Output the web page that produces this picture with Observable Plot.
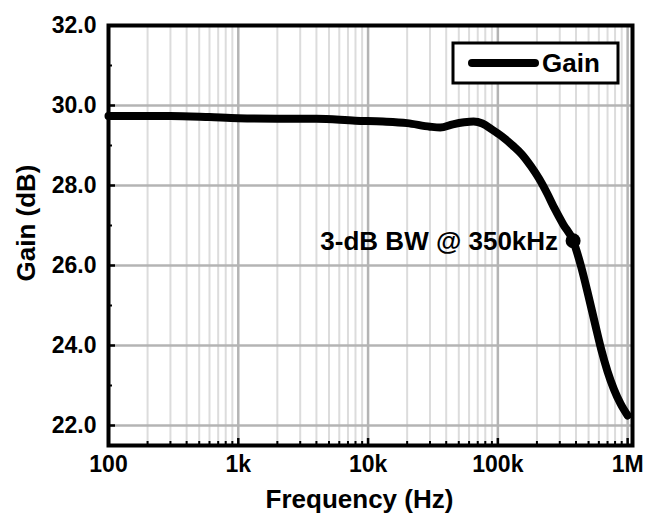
<!DOCTYPE html>
<html><head><meta charset="utf-8">
<script src="https://cdn.jsdelivr.net/npm/d3@7"></script>
<script src="https://cdn.jsdelivr.net/npm/@observablehq/plot@0.6"></script>
<style>body{margin:0;background:#fff;} #chart svg{display:block;}</style>
</head><body><div id="chart"></div>
<script>
// ---- data ----
const freq = [100, 300, 600, 1000, 2000, 4000, 8000, 13000, 20000, 30000, 36000, 45000, 55000, 65000, 76000, 90000, 108000, 130000, 153000, 180000, 207000, 240000, 274000, 320000, 380000, 440000, 498000, 560000, 626000, 700000, 785000, 880000, 1000000];
const gain = [29.74, 29.74, 29.71, 29.68, 29.67, 29.67, 29.62, 29.60, 29.56, 29.47, 29.45, 29.53, 29.58, 29.60, 29.55, 29.40, 29.22, 29.00, 28.78, 28.48, 28.18, 27.80, 27.42, 27.02, 26.62, 25.95, 25.25, 24.55, 23.90, 23.35, 22.90, 22.55, 22.25];
const markerFreq = [380000];
const markerGain = [26.62];
const markerLabel = ["3-dB BW @ 350kHz"];
const seriesName = "Gain";
const xMajorTicks = [100, 1000, 10000, 100000, 1000000];
const xTickLabels = ["100", "1k", "10k", "100k", "1M"];
const xMinorTicks = [200,300,400,500,600,700,800,900, 2000,3000,4000,5000,6000,7000,8000,9000, 20000,30000,40000,50000,60000,70000,80000,90000, 200000,300000,400000,500000,600000,700000,800000,900000];
const yMajorTicks = [22, 24, 26, 28, 30, 32];
const yTickLabels = ["22.0", "24.0", "26.0", "28.0", "30.0", "32.0"];
const yMinorTicks = [23, 25, 27, 29, 31];
const xTitle = "Frequency (Hz)";
const yTitle = "Gain (dB)";

// ---- build ----
const W = 645, H = 518;
const mL = 108, mR = 13, mT = 25, mB = 73;
const plotW = W - mL - mR, plotH = H - mT - mB;
const font = "'Liberation Sans', Arial, sans-serif";

const data = freq.map((f, i) => ({f, g: gain[i]}));
const markers = markerFreq.map((f, i) => ({f, g: markerGain[i], label: markerLabel[i]}));
const xLab = new Map(xMajorTicks.map((t, i) => [t, xTickLabels[i]]));
const yLab = new Map(yMajorTicks.map((t, i) => [t, yTickLabels[i]]));

const chart = Plot.plot({
  width: W, height: H,
  marginLeft: mL, marginRight: mR, marginTop: mT, marginBottom: mB,
  style: {fontFamily: font, background: "#fff", overflow: "visible"},
  x: {type: "log", domain: [100, 1.09e6], axis: null},
  y: {domain: [21.5, 32], axis: null},
  marks: [
    // grid
    Plot.ruleX(xMinorTicks, {stroke: "#dcdcdc", strokeWidth: 2}),
    Plot.ruleX(xMajorTicks, {stroke: "#b4b4b4", strokeWidth: 2.5}),
    Plot.ruleY(yMajorTicks, {stroke: "#b4b4b4", strokeWidth: 2.5}),
    // inward ticks
    Plot.ruleX(xMinorTicks, {stroke: "#000", strokeWidth: 2, insetTop: plotH - 4}),
    Plot.ruleX(xMajorTicks, {stroke: "#000", strokeWidth: 2.5, insetTop: plotH - 7}),
    Plot.ruleY(yMinorTicks, {stroke: "#000", strokeWidth: 2, insetRight: plotW - 4}),
    Plot.ruleY(yMajorTicks, {stroke: "#000", strokeWidth: 2.5, insetRight: plotW - 7}),
    // frame
    Plot.frame({stroke: "#000", strokeWidth: 4}),
    // tick labels
    Plot.text(xMajorTicks, {x: d => d, frameAnchor: "bottom", text: d => xLab.get(d), dy: 26, fontSize: 23, fontWeight: "bold", fill: "#000"}),
    Plot.text(yMajorTicks, {y: d => d, frameAnchor: "left", text: d => yLab.get(d), dx: -12, textAnchor: "end", fontSize: 23, fontWeight: "bold", fill: "#000"}),
    // x axis title
    Plot.text([xTitle], {frameAnchor: "bottom", text: d => d, dx: -11, dy: 62, fontSize: 26, fontWeight: "bold", fill: "#000"}),
    // curve
    Plot.line(data, {x: "f", y: "g", stroke: "#000", strokeWidth: 8, curve: "monotone-x", strokeLinecap: "round", strokeLinejoin: "round"}),
    Plot.dot(markers, {x: "f", y: "g", r: 7.5, fill: "#000", stroke: "none"}),
    Plot.text(markers, {x: "f", y: "g", text: "label", textAnchor: "end", dx: -15, dy: 1, fontSize: 26, fontWeight: "bold", fill: "#000"})
  ]
});

const svg = d3.select(chart);
// y axis title
svg.append("text")
  .attr("transform", `translate(26,${(mT + H - mB) / 2 - 12}) rotate(-90)`)
  .attr("text-anchor", "middle").attr("dy", "0.35em")
  .attr("font-family", font).attr("font-size", 26).attr("font-weight", "bold").attr("fill", "#000")
  .text(yTitle);

// legend box (top-right inside plot)
const lg = svg.append("g").attr("font-family", font);
const bx = 453, by = 43, bw = 165, bh = 40;
lg.append("rect").attr("x", bx).attr("y", by).attr("width", bw).attr("height", bh)
  .attr("fill", "#fff").attr("stroke", "#000").attr("stroke-width", 3);
lg.append("line").attr("x1", 472).attr("x2", 535).attr("y1", by + bh / 2).attr("y2", by + bh / 2)
  .attr("stroke", "#000").attr("stroke-width", 8).attr("stroke-linecap", "round");
lg.append("text").attr("x", 542).attr("y", by + bh / 2).attr("dy", "0.35em")
  .attr("text-anchor", "start")
  .attr("font-size", 26).attr("font-weight", "bold").attr("fill", "#000").text(seriesName);

document.getElementById("chart").appendChild(chart);
</script>
</body></html>
